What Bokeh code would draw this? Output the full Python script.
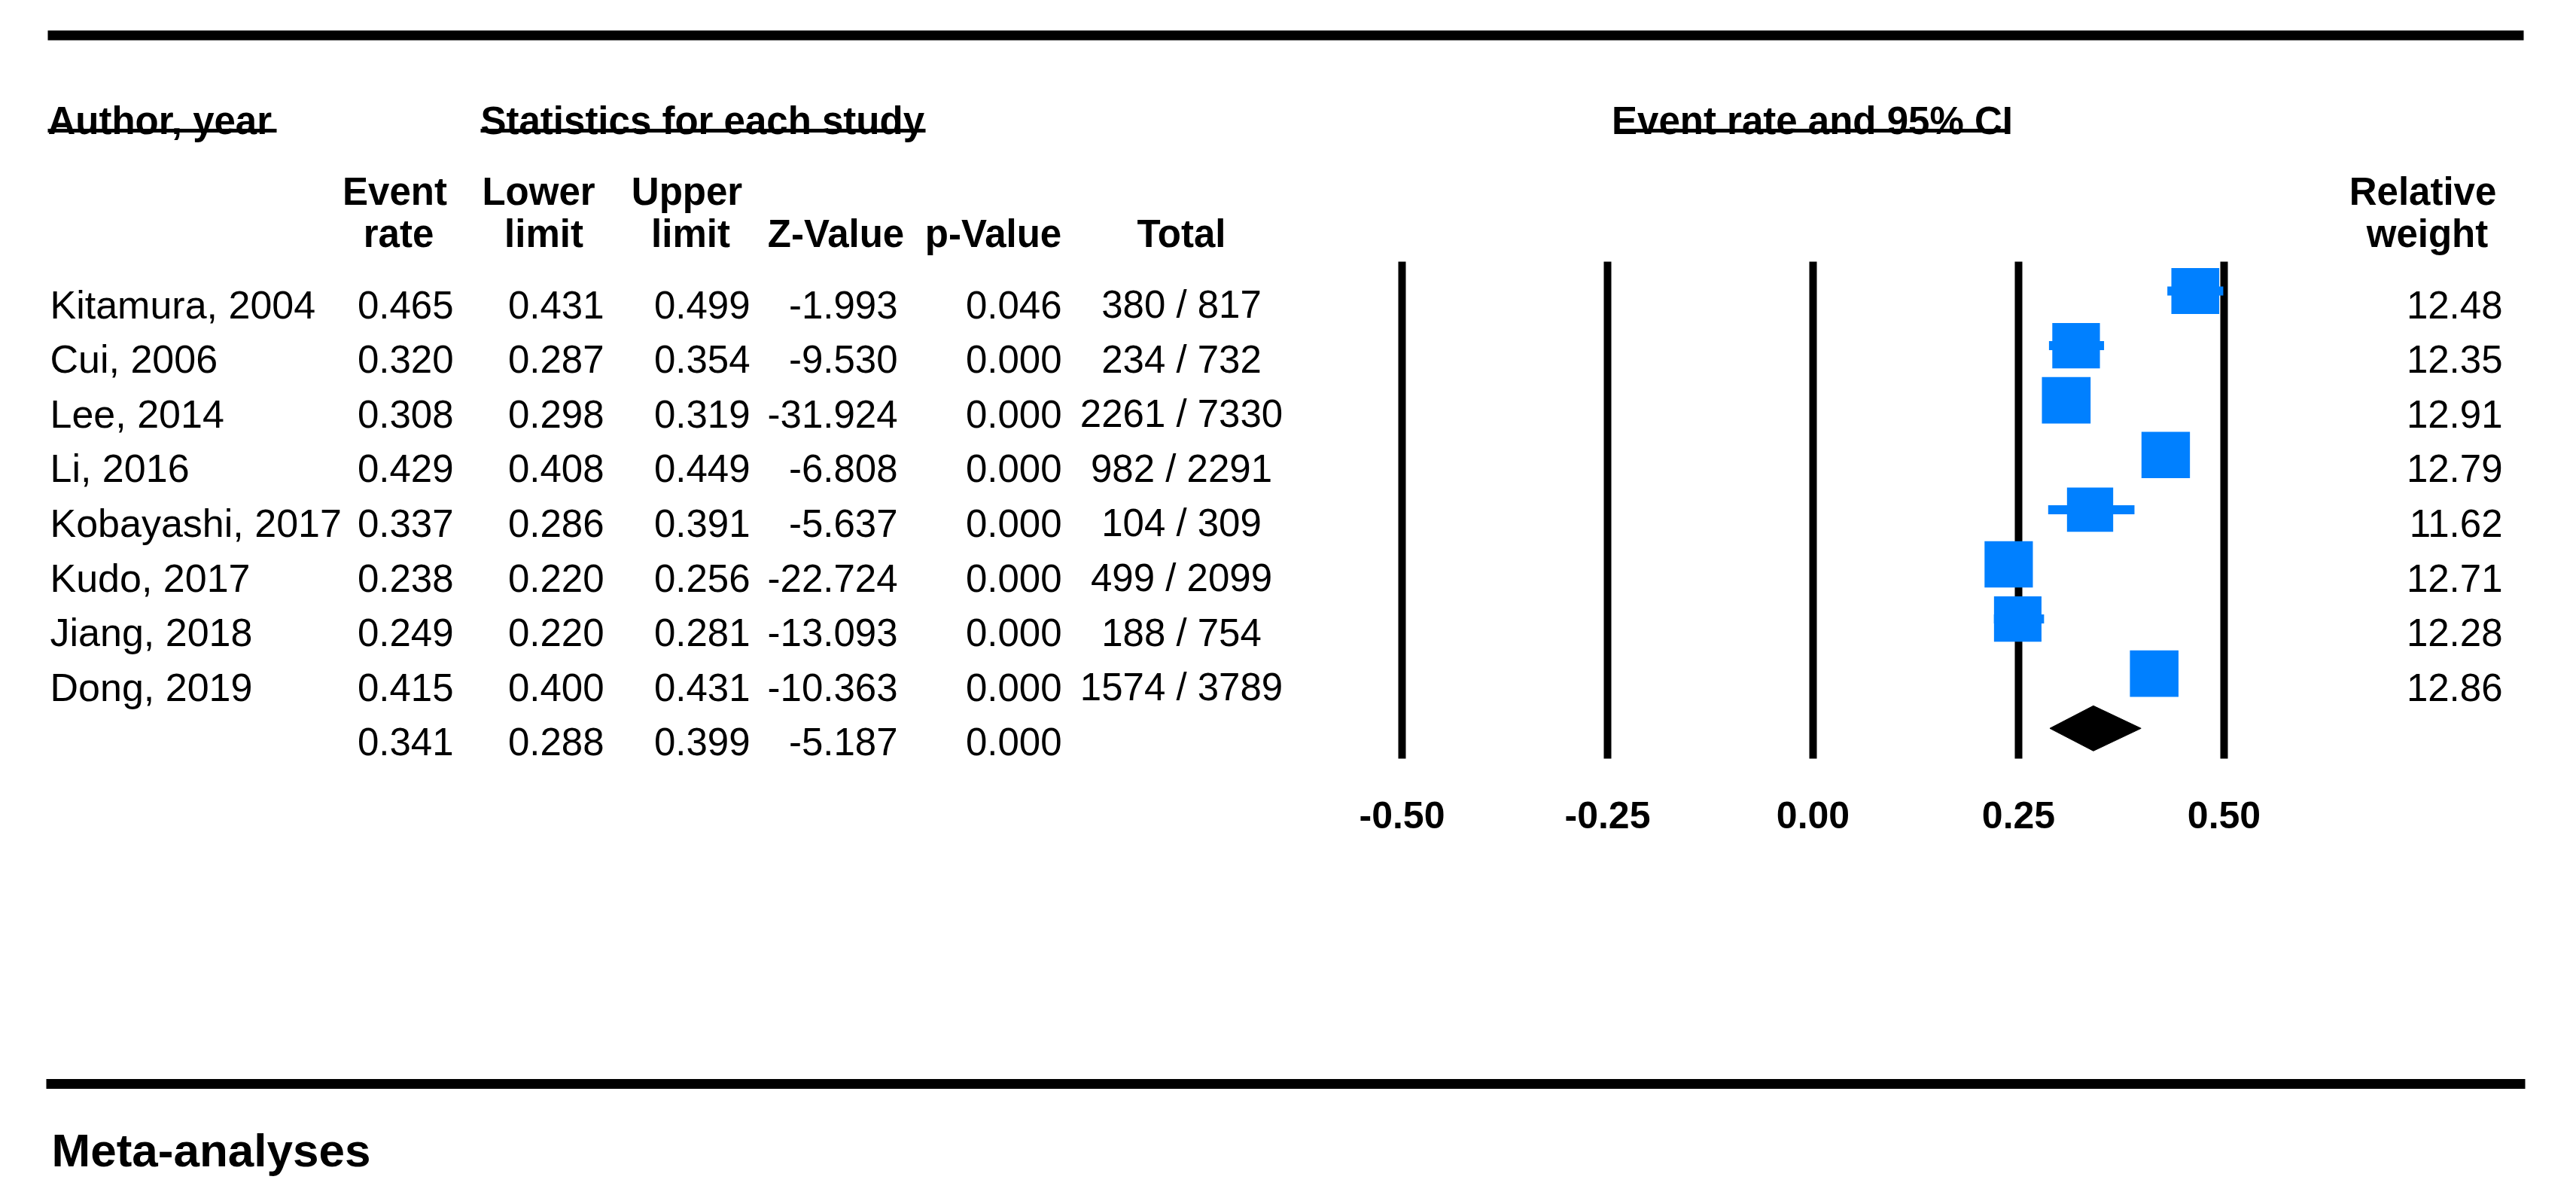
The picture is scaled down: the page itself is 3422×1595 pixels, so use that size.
import math
from bokeh.plotting import figure
from bokeh.models import ColumnDataSource, Range1d
from bokeh.core.properties import value
from bokeh.embed import file_html
from bokeh.resources import INLINE

# ---------------- data ----------------
authors = ["Kitamura, 2004", "Cui, 2006", "Lee, 2014", "Li, 2016",
           "Kobayashi, 2017", "Kudo, 2017", "Jiang, 2018", "Dong, 2019"]
event_rate = [0.465, 0.320, 0.308, 0.429, 0.337, 0.238, 0.249, 0.415]
lower_limit = [0.431, 0.287, 0.298, 0.408, 0.286, 0.220, 0.220, 0.400]
upper_limit = [0.499, 0.354, 0.319, 0.449, 0.391, 0.256, 0.281, 0.431]
z_value = [-1.993, -9.530, -31.924, -6.808, -5.637, -22.724, -13.093, -10.363]
p_value = [0.046, 0.000, 0.000, 0.000, 0.000, 0.000, 0.000, 0.000]
events = [380, 234, 2261, 982, 104, 499, 188, 1574]
totals = [817, 732, 7330, 2291, 309, 2099, 754, 3789]
rel_weight = [12.48, 12.35, 12.91, 12.79, 11.62, 12.71, 12.28, 12.86]

summary_rate = 0.341
summary_lower = 0.288
summary_upper = 0.399
summary_z = -5.187
summary_p = 0.000

ticks = [-0.50, -0.25, 0.00, 0.25, 0.50]

# ---------------- layout constants ----------------
FONT = "Liberation Sans"
BLUE = "#0080ff"
W, H = 3406, 1570
OFF = 8
X0 = 2416          # page pixel of event rate 0
PX_PER_UNIT = 1092  # pixels per unit of event rate
ROW0 = 394         # page pixel of first row centre
ROW_H = 72.6       # pixels per row


def X(px):
    return (px - X0) / PX_PER_UNIT


def Y(px):
    return (px - ROW0) / ROW_H


BASE = 18 / ROW_H  # text baseline below row centre

p = figure(width=W, height=H,
           x_range=Range1d(X(OFF), X(OFF + W)),
           y_range=Range1d(Y(OFF + H), Y(OFF)),
           x_axis_type=None, y_axis_type=None,
           output_backend="svg", toolbar_location=None, min_border=0)
p.outline_line_color = None
p.background_fill_color = "white"
p.border_fill_color = "white"


def txt(xs, ys, texts, align, bold=False, size=51, color="black"):
    src = ColumnDataSource(dict(x=xs, y=ys, t=texts))
    p.text(x="x", y="y", text="t", source=src, text_align=align,
           text_baseline="alphabetic", text_font=value(FONT),
           text_font_size=f"{size}px",
           text_font_style="bold" if bold else "normal",
           text_color=color)


n = len(authors)
rows = list(range(n))
srow = n
all_rows = rows + [srow]
ty = [r + BASE for r in all_rows]

# ---------------- rules ----------------
p.segment(x0=[X(71), X(69)], y0=[Y(54.5), Y(1447)],
          x1=[X(3360), X(3362)], y1=[Y(54.5), Y(1447)],
          line_color="black", line_width=13)

# ---------------- headers ----------------
txt([X(71)], [Y(168)], ["Author, year"], "left", bold=True)
txt([X(646)], [Y(168)], ["Statistics for each study"], "left", bold=True)
txt([X(2415)], [Y(168)], ["Event rate and 95% CI"], "center", bold=True)
p.segment(x0=[X(71), X(646), X(2155)], y0=[Y(181)] * 3,
          x1=[X(375), X(1237), X(2675)], y1=[Y(181)] * 3,
          line_color="black", line_width=5)

txt([X(532), X(723), X(920), X(3226)], [Y(262)] * 4,
    ["Event", "Lower", "Upper", "Relative"], "center", bold=True)
txt([X(537), X(730), X(925), X(1118), X(1327), X(1577), X(3232)], [Y(318)] * 7,
    ["rate", "limit", "limit", "Z-Value", "p-Value", "Total", "weight"],
    "center", bold=True)

# ---------------- table body ----------------
txt([X(74)] * n, ty[:n], authors, "left", size=52)
cols = [
    (event_rate + [summary_rate], 610),
    (lower_limit + [summary_lower], 810),
    (upper_limit + [summary_upper], 1004),
    (z_value + [summary_z], 1200),
    (p_value + [summary_p], 1418),
]
for vals, right in cols:
    txt([X(right)] * len(vals), ty, [f"{v:.3f}" for v in vals], "right")

txt([X(1577)] * n, ty[:n], [f"{e} / {t}" for e, t in zip(events, totals)], "center")
txt([X(3332)] * n, ty[:n], [f"{w:.2f}" for w in rel_weight], "right")

# ---------------- forest plot ----------------
p.segment(x0=ticks, y0=[Y(355)] * len(ticks), x1=ticks, y1=[Y(1015)] * len(ticks),
          line_color="black", line_width=10)

p.segment(x0=lower_limit, y0=rows, x1=upper_limit, y1=rows,
          line_color=BLUE, line_width=12)
p.rect(x=event_rate, y=rows,
       width=[18.0 * math.sqrt(w) for w in rel_weight],
       height=[17.2 * math.sqrt(w) for w in rel_weight],
       width_units="screen", height_units="screen",
       fill_color=BLUE, line_color=None)

hh = 30 / ROW_H
p.patch(x=[summary_lower, summary_rate, summary_upper, summary_rate],
        y=[srow, srow - hh, srow, srow + hh],
        fill_color="black", line_color="black", line_width=1)

txt(ticks, [Y(1090)] * len(ticks), [f"{t:.2f}" for t in ticks], "center", bold=True, size=50)

# ---------------- footer ----------------
txt([X(76)], [Y(1535)], ["Meta-analyses"], "left", bold=True, size=62)

open("out.html", "w").write(file_html(p, INLINE))
